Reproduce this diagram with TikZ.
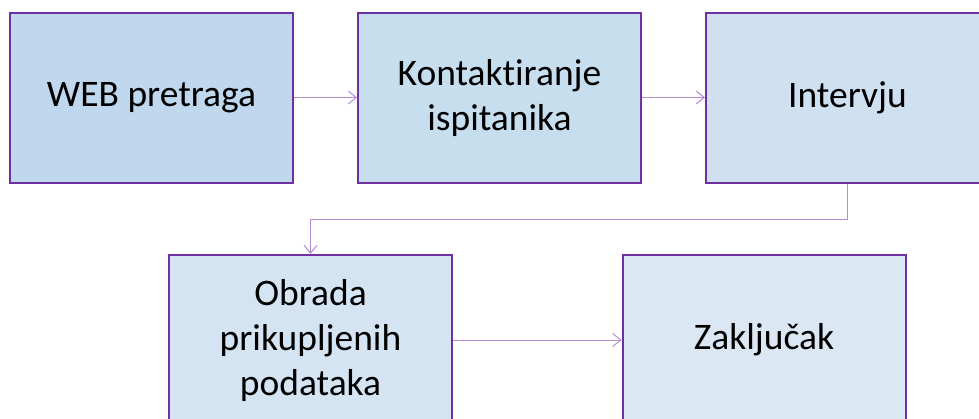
\documentclass[tikz,border=0pt]{standalone}
\usepackage{fontspec}
\setmainfont{Carlito}[Ligatures={NoCommon,NoRare,NoContextual}]
\usetikzlibrary{arrows.meta}
\definecolor{bordc}{HTML}{7030A0}
\definecolor{arrc}{HTML}{B48CD6}
\definecolor{fa}{HTML}{C0D8EE}
\definecolor{fb}{HTML}{C7DEEF}
\definecolor{fc}{HTML}{CFE1F0}
\definecolor{fd}{HTML}{D5E4F2}
\definecolor{fe}{HTML}{DBE7F3}
\tikzset{
  stepbox/.style={draw=bordc, line width=2pt, rectangle, minimum width=283pt, minimum height=170pt,
    inner sep=0pt, align=center, font=\fontsize{37.5}{45}\selectfont, text=black},
  flow/.style={draw=arrc, line width=1pt, -{Straight Barb[length=8pt,width=13pt,line width=1pt]}}
}
\begin{document}
\begin{tikzpicture}[x=1pt,y=-1pt]
\useasboundingbox (0,0) rectangle (979,418);
\clip (0,0) rectangle (979,418);
\fill[white] (0,0) rectangle (979,418);
\node[stepbox, fill=fa] (b1) at (151.5,97.5) {WEB pretraga};
\node[stepbox, fill=fb] (b2) at (499.5,97.5) {Kontaktiranje\\ispitanika};
\node[stepbox, fill=fc] (b3) at (847.5,97.5) {Intervju};
\node[stepbox, fill=fd] (b4) at (310.5,340) {Obrada\\prikupljenih\\podataka};
\node[stepbox, fill=fe] (b5) at (764,340) {Zaključak};
\draw[flow] (b1) -- (b2);
\draw[flow] (b2) -- (b3);
\draw[flow] (b3.south) -- ++(0,36) -| (b4.north);
\draw[flow] (b4) -- (b5);
\end{tikzpicture}
\end{document}
